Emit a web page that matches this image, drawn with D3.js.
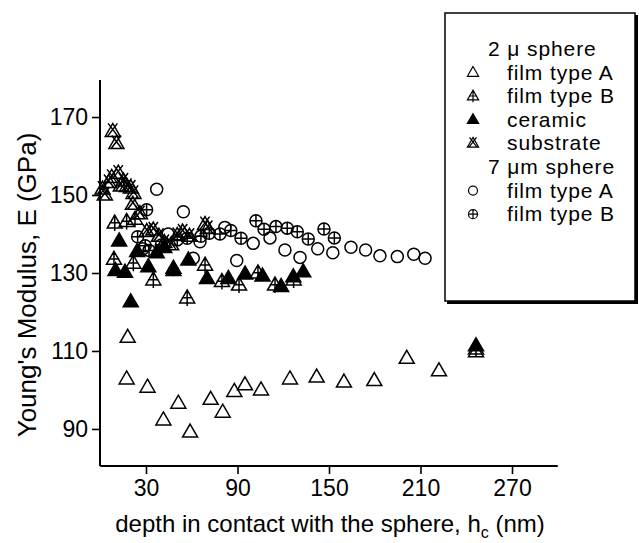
<!DOCTYPE html>
<html>
<head>
<meta charset="utf-8">
<script src="https://cdn.jsdelivr.net/npm/d3@7"></script>
<style>
  body { margin: 0; background: #fff; }
  svg text { font-family: "Liberation Sans", Arial, sans-serif; fill: #000; }
</style>
</head>
<body>
<svg id="chart" width="639" height="543"></svg>
<script>
// Tick labels
var XTicks = [30, 90, 150, 210, 270];
var YTicks = [90, 110, 130, 150, 170];
// 2 um sphere, film type A (open triangles) [depth nm, E GPa]
var FilmA2 = [[18, 113.5], [17.3, 102.8], [31, 100.7], [41.4, 92.3], [51.2, 96.6], [58.9, 89.2], [72.4, 97.6], [80.3, 94.3],
    [87.9, 99.6], [94.9, 101.3], [105.4, 100], [124.4, 102.8], [141.9, 103.3], [159.8, 102], [179.7, 102.4], [201, 108.1],
    [222.1, 104.9], [246.4, 109.8]];
// 2 um sphere, film type B (triangle with cross)
var FilmB2 = [[9.5, 142.8], [9, 133.5], [17.3, 143.2], [22.8, 143.8], [21.7, 132.5], [34.8, 128.2], [48, 131.2], [57, 123.6],
    [68.7, 132], [79.8, 127.8], [91, 126.9], [103.4, 130], [114.6, 126.9], [126.8, 128.2], [246.4, 110.5]];
// 2 um sphere, ceramic (filled triangles)
var Ceramic = [[12.4, 138.2], [10, 130.6], [16.2, 130.2], [20, 122.6], [24.2, 135.5], [31.5, 131.6], [37, 135.2], [42, 136.5],
    [48, 130.6], [57.8, 133.3], [70, 128.6], [84, 128.6], [95, 129.7], [106.4, 129.2], [118.6, 126.5], [126.6, 129],
    [133.1, 130.3], [246.4, 111.3]];
// 2 um sphere, substrate (triangle with X)
var Substrate = [[1.5, 151.5], [3, 150], [5.5, 153.2], [7.5, 154.5], [8.2, 166.3], [10.6, 163.2], [11.8, 155.6], [13.5, 152.3],
    [15.2, 153.6], [17.5, 152.2], [20, 151.8], [21.8, 150.4], [21.4, 147.6], [26, 145.2], [30.5, 140.6], [34.8, 141],
    [38.5, 139.4], [42, 137.8], [46.5, 137.2], [50.5, 139.6], [54, 140.5], [58.5, 139.4], [68.7, 142.4], [70.5, 141.4]];
// 7 um sphere, film type A (open circles)
var FilmA7 = [[37, 151.5], [54.5, 145.7], [44.5, 140], [28, 136.2], [61, 133.8], [65.4, 138], [81.7, 141.7], [89.5, 133.2],
    [100.3, 137.6], [111.3, 139], [121.1, 135.9], [131, 134], [142.6, 136.2], [152.5, 135.2], [164.4, 136.6], [174, 135.9],
    [183.4, 134.4], [194.8, 134.2], [205.6, 134.8], [213, 133.8]];
// 7 um sphere, film type B (circle with plus)
var FilmB7 = [[30.4, 146.2], [24.5, 139.3], [29.5, 137], [32, 135.8], [40, 137.2], [50.5, 138.5], [57, 138.9], [66, 139.4],
    [71.5, 140.2], [78.5, 140], [85.6, 140.9], [92.3, 138.9], [102.1, 143.4], [107.4, 141.2], [115.2, 141.9], [122.6, 141.5],
    [129.2, 140.6], [136.4, 138.7], [146.7, 141.3], [153.5, 139]];
// Legend rows
var LegendRows = [
    { Label: "2 \u03bc sphere", Kind: null },
    { Label: "film type A", Kind: "triOpen" },
    { Label: "film type B", Kind: "triCross" },
    { Label: "ceramic", Kind: "triFilled" },
    { Label: "substrate", Kind: "triX" },
    { Label: "7 \u03bcm sphere", Kind: null },
    { Label: "film type A", Kind: "circle" },
    { Label: "film type B", Kind: "circlePlus" }
];

var SVG = d3.select("#chart");
var X = d3.scaleLinear().domain([0, 300]).range([100.25, 557.75]);
var Y = d3.scaleLinear().domain([80.5, 179.5]).range([466, 80]);

// Marker paths, scaled by S
function MarkerPath(Kind, S) {
    var W = 7.5 * S, H = 13 * S;
    var Top = -H * 0.62, Base = H * 0.38;
    var Tri = `M0,${Top}L${W},${Base}L${-W},${Base}Z`;
    if (Kind == "triOpen" || Kind == "triFilled") return Tri;
    if (Kind == "triCross")
        return Tri + `M0,${Top}L0,${Base + 3 * S}M${-W * 0.72},${-H * 0.02}L${W * 0.72},${-H * 0.02}`;
    if (Kind == "triX")
        return Tri + `M${-W * 0.62},${Top}L${W * 0.7},${Base}M${W * 0.62},${Top}L${-W * 0.7},${Base}`;
    var R = 6 * S;
    var Circle = `M${R},0A${R},${R} 0 1,1 ${-R},0A${R},${R} 0 1,1 ${R},0Z`;
    if (Kind == "circle") return Circle;
    return Circle + `M${-R},0L${R},0M0,${-R}L0,${R}`;
}

// Axes
var XAxis = SVG.append("g").attr("transform", "translate(0,466)")
    .call(d3.axisBottom(X).tickValues(XTicks).tickSize(8).tickPadding(6));
var YAxis = SVG.append("g").attr("transform", "translate(100,0)")
    .call(d3.axisLeft(Y).tickValues(YTicks).tickSize(8).tickPadding(4));
[XAxis, YAxis].forEach(Axis => {
    Axis.select(".domain").attr("stroke-width", 2);
    Axis.selectAll(".tick line").attr("stroke-width", 1.6);
    Axis.selectAll("text").attr("font-size", 23).attr("font-family", "Liberation Sans, Arial, sans-serif");
});
XAxis.select(".domain").attr("d", `M${X(0)},0H${X(300)}`);
YAxis.select(".domain").attr("d", `M0,${Y(80.5)}V${Y(179.5)}`);

// Axis titles
var XTitle = SVG.append("text").attr("x", 330).attr("y", 532).attr("text-anchor", "middle").attr("font-size", 24);
XTitle.append("tspan").text("depth in contact with the sphere, h");
XTitle.append("tspan").attr("dy", 6).attr("font-size", 16).text("c");
XTitle.append("tspan").attr("dy", -6).text(" (nm)");
SVG.append("text").attr("transform", "translate(36,285) rotate(-90)").attr("text-anchor", "middle")
    .attr("font-size", 26).text("Young's Modulus, E (GPa)");

// Data series
var Series = [
    { Data: FilmA2, Kind: "triOpen" },
    { Data: FilmA7, Kind: "circle" },
    { Data: FilmB7, Kind: "circlePlus" },
    { Data: Substrate, Kind: "triX" },
    { Data: FilmB2, Kind: "triCross" },
    { Data: Ceramic, Kind: "triFilled" }
];
Series.forEach(S => {
    SVG.append("g").selectAll("path").data(S.Data).enter().append("path")
        .attr("transform", D => `translate(${X(D[0])},${Y(D[1])})`)
        .attr("d", MarkerPath(S.Kind, 1))
        .attr("fill", S.Kind == "triFilled" ? "#000" : "none")
        .attr("stroke", "#000")
        .attr("stroke-width", 1.5);
});

// Legend
var Legend = SVG.append("g");
Legend.append("rect").attr("x", 445).attr("y", 13).attr("width", 190).attr("height", 288)
    .attr("fill", "#fff").attr("stroke", "#000").attr("stroke-width", 1.5);
Legend.append("path").attr("d", "M447,302.5H636.5V15").attr("fill", "none").attr("stroke", "#000").attr("stroke-width", 3);
LegendRows.forEach((Row, I) => {
    var CY = 48 + I * 23.6;
    Legend.append("text").attr("x", Row.Kind ? 507 : 488).attr("y", CY + 8).attr("font-size", 21)
        .attr("letter-spacing", 0.9).text(Row.Label);
    if (Row.Kind)
        Legend.append("path").attr("transform", `translate(473,${CY + 1})`)
            .attr("d", MarkerPath(Row.Kind, 0.75))
            .attr("fill", Row.Kind == "triFilled" ? "#000" : "none")
            .attr("stroke", "#000").attr("stroke-width", 1.2);
});
</script>
</body>
</html>
